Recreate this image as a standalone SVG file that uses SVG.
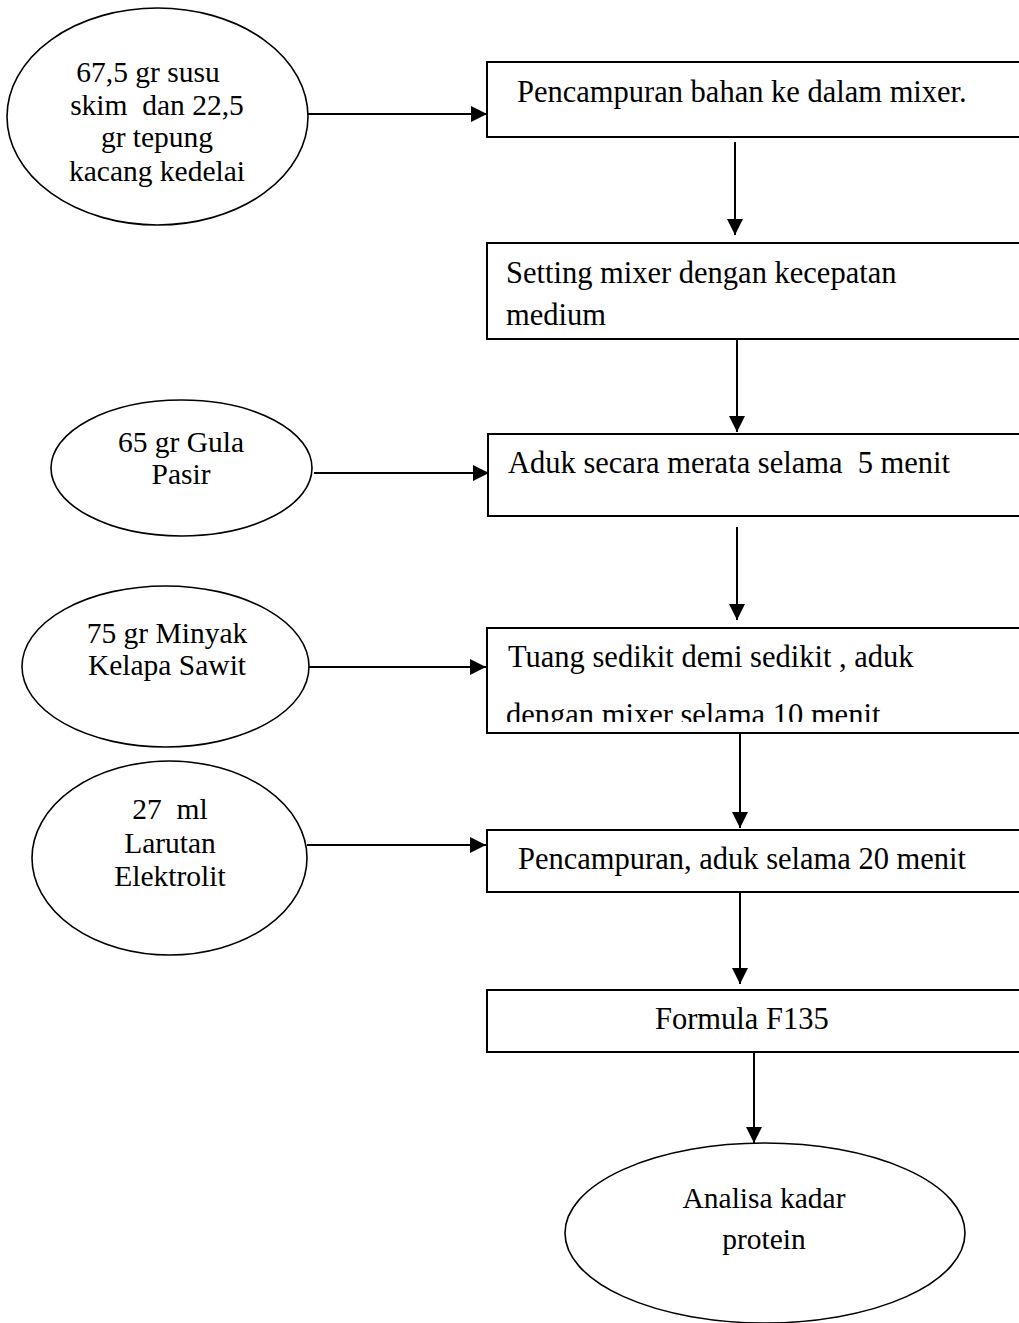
<svg xmlns="http://www.w3.org/2000/svg" width="1019" height="1323" viewBox="0 0 1019 1323">
<defs>
<style>
.n{fill:#fff;stroke:#000;stroke-width:1.6}
.b{fill:#fff;stroke:#000;stroke-width:2}
.t{font-family:"Liberation Serif","Times New Roman",serif;font-size:30.5px;fill:#000}
.e{font-family:"Liberation Serif","Times New Roman",serif;font-size:29.5px;fill:#000;text-anchor:middle}
.c{stroke:#000;stroke-width:2;fill:none;marker-end:url(#ah)}
</style>
<marker id="ah" viewBox="0 0 10 10" refX="10" refY="5" markerWidth="8" markerHeight="8" orient="auto" markerUnits="strokeWidth">
<path d="M0,0 L10,5 L0,10 z" fill="#000"/>
</marker>
<clipPath id="clip4"><rect x="487" y="628" width="540" height="94"/></clipPath>
</defs>
<rect width="1019" height="1323" fill="#fff"/>
<g id="connectors">
<line class="c" x1="308" y1="114" x2="487" y2="114"/>
<line class="c" x1="735" y1="142" x2="735" y2="235"/>
<line class="c" x1="737" y1="339" x2="737" y2="432"/>
<line class="c" x1="314" y1="473" x2="489" y2="473"/>
<line class="c" x1="737" y1="527" x2="737" y2="620"/>
<line class="c" x1="309" y1="667" x2="486" y2="667"/>
<line class="c" x1="740" y1="733" x2="740" y2="828"/>
<line class="c" x1="307" y1="845" x2="486" y2="845"/>
<line class="c" x1="740" y1="892" x2="740" y2="984"/>
<line class="c" x1="754" y1="1052" x2="754" y2="1143"/>
</g>
<g id="in1">
<ellipse class="n" cx="157.5" cy="116.5" rx="150.5" ry="108.5"/>
<text class="e" x="148" y="82">67,5 gr susu</text>
<text class="e" x="157" y="115" xml:space="preserve">skim  dan 22,5</text>
<text class="e" x="157" y="147">gr tepung</text>
<text class="e" x="157" y="181">kacang kedelai</text>
</g>
<g id="in2">
<ellipse class="n" cx="181.5" cy="468" rx="130.5" ry="68"/>
<text class="e" x="181" y="452">65 gr Gula</text>
<text class="e" x="181" y="484">Pasir</text>
</g>
<g id="in3">
<ellipse class="n" cx="165.5" cy="666.5" rx="143.5" ry="80.5"/>
<text class="e" x="167" y="643">75 gr Minyak</text>
<text class="e" x="167" y="675">Kelapa Sawit</text>
</g>
<g id="in4">
<ellipse class="n" cx="169.5" cy="858" rx="137.5" ry="97"/>
<text class="e" x="170" y="819" xml:space="preserve">27  ml</text>
<text class="e" x="170" y="853">Larutan</text>
<text class="e" x="170" y="886">Elektrolit</text>
</g>
<g id="s1">
<rect class="b" x="487" y="62" width="540" height="75"/>
<text class="t" x="517" y="102">Pencampuran bahan ke dalam mixer.</text>
</g>
<g id="s2">
<rect class="b" x="487" y="243" width="540" height="96"/>
<text class="t" x="506" y="283">Setting mixer dengan kecepatan</text>
<text class="t" x="506" y="325">medium</text>
</g>
<g id="s3">
<rect class="b" x="488" y="434" width="540" height="82"/>
<text class="t" x="508" y="473" xml:space="preserve">Aduk secara merata selama  5 menit</text>
</g>
<g id="s4">
<rect class="b" x="487" y="628" width="540" height="105"/>
<text class="t" x="508" y="667">Tuang sedikit demi sedikit , aduk</text>
<text class="t" x="506" y="725" clip-path="url(#clip4)">dengan mixer selama 10 menit</text>
</g>
<g id="s5">
<rect class="b" x="487" y="830" width="540" height="62"/>
<text class="t" x="518" y="869">Pencampuran, aduk selama 20 menit</text>
</g>
<g id="s6">
<rect class="b" x="487" y="990" width="540" height="62"/>
<text class="t" x="655" y="1029">Formula F135</text>
</g>
<g id="out">
<ellipse class="n" cx="765" cy="1233" rx="200" ry="90"/>
<text class="e" x="764" y="1208">Analisa kadar</text>
<text class="e" x="764" y="1249">protein</text>
</g>
</svg>
